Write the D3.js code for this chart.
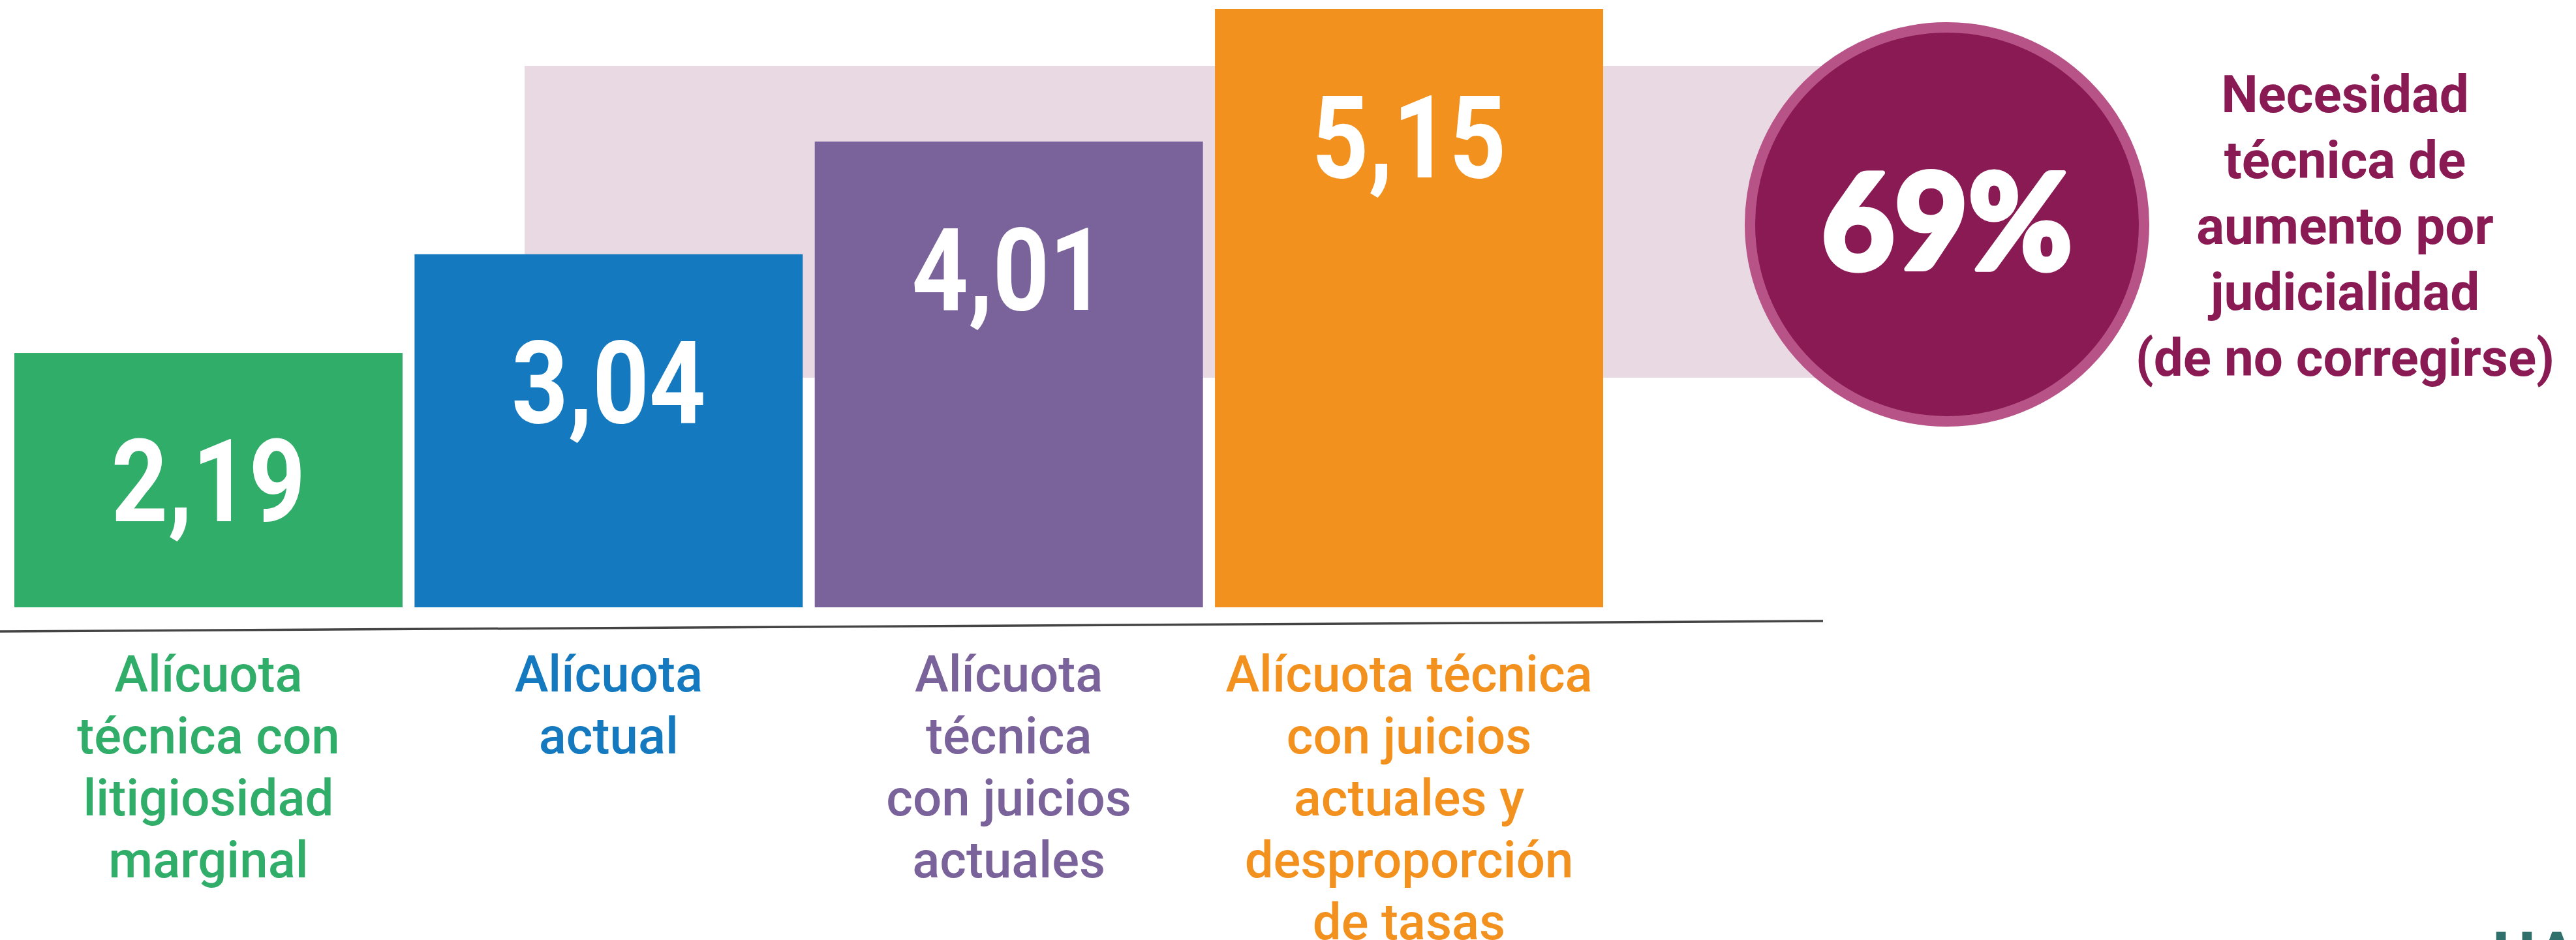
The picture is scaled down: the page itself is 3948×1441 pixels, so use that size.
<!DOCTYPE html>
<html>
<head>
<meta charset="utf-8">
<script src="https://cdn.jsdelivr.net/npm/d3@7"></script>
<style>
  html, body { margin: 0; padding: 0; background: #fff; }
  svg { display: block; }
</style>
</head>
<body>
<div id="chart"></div>
<script>
// ── Datos ─────────────────────────────────────────────
const categorias = [
    'litigiosidad marginal',
    'actual',
    'juicios actuales',
    'juicios y desproporción'
];
const valores = [2.19, 3.04, 4.01, 5.15];
const lineasCategoria = [
    ['Alícuota', 'técnica con', 'litigiosidad', 'marginal'],
    ['Alícuota', 'actual'],
    ['Alícuota', 'técnica', 'con juicios', 'actuales'],
    ['Alícuota técnica', 'con juicios', 'actuales y', 'desproporción', 'de tasas']
];
const colores = ['#31ad6a', '#1479be', '#7a629a', '#f3911f'];
const aumento = 0.69;
const textoAumento = ['Necesidad', 'técnica de', 'aumento por', 'judicialidad', '(de no corregirse)'];

// ── Lienzo ────────────────────────────────────────────
const W = 3948, H = 1441;
const svg = d3.select('#chart').append('svg')
    .attr('width', W).attr('height', H);

const locale = d3.formatLocale({ decimal: ',', thousands: '.', grouping: [3], currency: ['$', ''] });
const fmtValor = locale.format('.2f');
const fmtPct = d3.format('.0%');

const x = d3.scaleBand().domain(categorias).range([22, 2457]).paddingInner(0.03);
const y = d3.scaleLinear().domain([0, 5.15]).range([931, 14]);

// Banda de fondo
svg.append('rect')
    .attr('x', 804).attr('y', 101)
    .attr('width', 2984 - 804).attr('height', 579 - 101)
    .attr('fill', '#e9d9e3');

// Barras
svg.append('g').selectAll('rect')
    .data(valores)
    .join('rect')
    .attr('x', (d, i) => x(categorias[i]))
    .attr('y', d => y(d))
    .attr('width', x.bandwidth())
    .attr('height', d => y(0) - y(d))
    .attr('fill', (d, i) => colores[i]);

// Valores dentro de las barras (algo condensados)
svg.append('g').selectAll('text')
    .data(valores)
    .join('text')
    .attr('transform', (d, i) =>
        `translate(${x(categorias[i]) + x.bandwidth() / 2},${y(d) + 258}) scale(0.86,1)`)
    .attr('text-anchor', 'middle')
    .attr('fill', '#fff')
    .style('font-family', 'Roboto, sans-serif')
    .style('font-weight', 700)
    .style('font-size', '176px')
    .text(d => fmtValor(d));

// Línea base (ligeramente inclinada como en el original)
svg.append('line')
    .attr('x1', 0).attr('y1', y(0) + 37)
    .attr('x2', 2794).attr('y2', y(0) + 21)
    .attr('stroke', '#444').attr('stroke-width', 3.5);

// Etiquetas de categoría
const etiq = svg.append('g').selectAll('text')
    .data(lineasCategoria)
    .join('text')
    .attr('text-anchor', 'middle')
    .attr('fill', (d, i) => colores[i])
    .style('font-family', 'Roboto, sans-serif')
    .style('font-weight', 500)
    .style('font-size', '78px');

etiq.each(function (lineas, i) {
    const cx = x(categorias[i]) + x.bandwidth() / 2;
    d3.select(this).selectAll('tspan')
        .data(lineas)
        .join('tspan')
        .attr('x', cx)
        .attr('y', (l, j) => 1060 + j * 95)
        .text(l => l);
});

// Círculo con porcentaje
const cx = 2984, cy = 344;
svg.append('circle')
    .attr('cx', cx).attr('cy', cy).attr('r', 302)
    .attr('fill', '#891a53')
    .attr('stroke', '#b85388').attr('stroke-width', 16);

svg.append('text')
    .attr('transform', `translate(${cx},413) scale(0.95,1)`)
    .attr('text-anchor', 'middle')
    .attr('fill', '#fff')
    .attr('stroke', '#fff').attr('stroke-width', 7)
    .attr('stroke-linejoin', 'round')
    .style('font-family', 'Lato, Roboto, sans-serif')
    .style('font-weight', 900)
    .style('font-size', '204px')
    .text(fmtPct(aumento));

// Texto a la derecha
svg.append('text')
    .attr('text-anchor', 'middle')
    .attr('fill', '#891a53')
    .style('font-family', 'Roboto, sans-serif')
    .style('font-weight', 700)
    .style('font-size', '80px')
    .selectAll('tspan')
    .data(textoAumento)
    .join('tspan')
    .attr('x', 3594)
    .attr('y', (d, i) => 172 + i * 101)
    .text(d => d);

// Fragmento del logo (cortado en el borde)
svg.append('text')
    .attr('x', 3820).attr('y', 1500)
    .attr('fill', '#2f6f6c')
    .style('font-family', 'Roboto, sans-serif')
    .style('font-weight', 700)
    .style('font-size', '100px')
    .text('UAR');
</script>
</body>
</html>
